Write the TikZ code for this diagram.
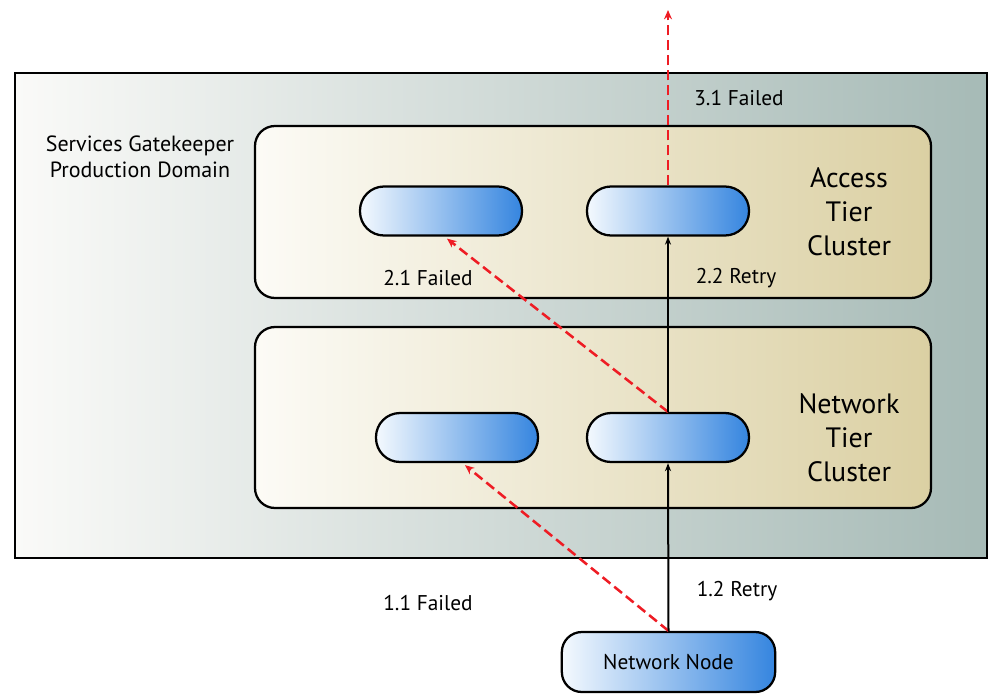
\documentclass[tikz,border=0pt]{standalone}
\usepackage{fontspec}
\setmainfont{PT Sans}
\usetikzlibrary{arrows.meta,calc}
\definecolor{domleft}{HTML}{FAFAF8}
\definecolor{domright}{HTML}{A6BAB6}
\definecolor{clleft}{HTML}{FCFBF6}
\definecolor{clright}{HTML}{DBD0A3}
\definecolor{pillleft}{HTML}{F4F9FE}
\definecolor{pillright}{HTML}{3585DF}
\definecolor{failred}{HTML}{EE1C24}
\begin{document}
\begin{tikzpicture}[x=0.75pt,y=-0.75pt,
  domain box/.style={draw=black,line width=1.8pt,left color=domleft,right color=domright,
    minimum width=729pt,minimum height=363.75pt,inner sep=0pt},
  cluster/.style={draw=black,line width=1.7pt,rounded corners=15pt,left color=clleft,right color=clright,
    minimum width=507pt,inner sep=0pt},
  pill/.style={draw=black,line width=1.7pt,rounded corners=18pt,left color=pillleft,right color=pillright,
    minimum width=121.5pt,minimum height=36.75pt,inner sep=0pt},
  netnode/.style={draw=black,line width=1.7pt,rounded corners=15pt,left color=pillleft,right color=pillright,
    minimum width=160pt,minimum height=45pt,inner sep=0pt,font=\fontsize{16}{19}\selectfont},
  lbl/.style={font=\fontsize{16}{19}\selectfont,inner sep=0pt},
  title/.style={font=\fontsize{21}{25.5}\selectfont,align=center,inner sep=0pt},
  retry/.style={draw=black,line width=1.5pt,-{Stealth[length=6pt,width=4.5pt]}},
  failed/.style={draw=failred,line width=1.9pt,dash pattern=on 7.5pt off 3.75pt,-{Stealth[length=7pt,width=6pt]}}
]
\useasboundingbox (0,0) rectangle (989,694);

% production domain
\node[domain box] (dom) at (501,315.5) {};
\node[lbl,align=center,font=\fontsize{16.5}{19.5}\selectfont] (domlabel) at (140,157)
  {Services Gatekeeper\\Production Domain};

% tier clusters
\node[cluster,minimum height=129pt] (access) at (593,212) {};
\node[cluster,minimum height=135.75pt] (network) at (593,417.5) {};
\node[title] (accesslabel) at (849,212) {Access\\Tier\\Cluster};
\node[title] (networklabel) at (849,438) {Network\\Tier\\Cluster};

% cluster members
\node[pill] (ap1) at (441,211) {};
\node[pill] (ap2) at (668,211) {};
\node[pill] (np1) at (457,437.5) {};
\node[pill] (np2) at (668,437.5) {};

% client
\node[netnode] (nn) at (668.5,662) {Network Node};
\coordinate (out) at (668,10);

% request paths
\draw[failed] (nn.north) -- ($(np1.south)+(8,2)$);
\draw[retry] (nn.north) -- (np2.south);
\draw[failed] (np2.north) -- ($(ap1.south)+(6,2)$);
\draw[retry] (np2.north) -- (ap2.south);
\draw[failed] (ap2.north) -- (out);

% step labels
\node[lbl] (l11) at (428,603) {1.1 Failed};
\node[lbl] (l12) at (737,591) {1.2 Retry};
\node[lbl] (l21) at (428,278) {2.1 Failed};
\node[lbl] (l22) at (736,278) {2.2 Retry};
\node[lbl] (l31) at (739,98) {3.1 Failed};
\end{tikzpicture}
\end{document}
